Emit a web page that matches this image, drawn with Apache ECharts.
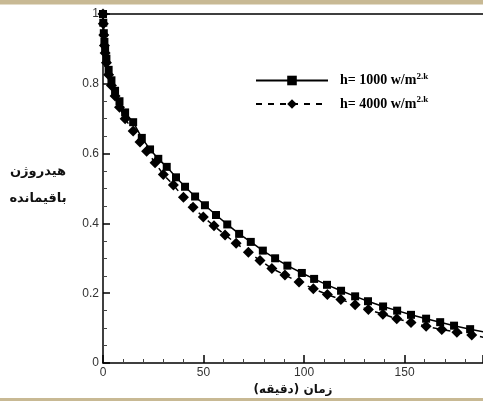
<!DOCTYPE html>
<html>
<head>
<meta charset="utf-8">
<script src="https://cdn.jsdelivr.net/npm/echarts@6/dist/echarts.min.js"></script>
<style>
html,body{margin:0;padding:0;background:#fff;}
#c{width:483px;height:401px;}
</style>
</head>
<body>
<div id="c"></div>
<script>
// h = 1000 w/m^2.k (squares, solid)
const t1000 = [0, 0.15, 0.4, 0.7, 1.05, 1.7, 2.8, 4.2, 6, 8.2, 11, 15, 19.3, 23.4, 27.5, 31.7, 36.3, 40.8, 45.8, 50.7, 56.2, 61.8, 67.7, 73.5, 79.5, 85.6, 91.7, 98.9, 105, 111.4, 118.4, 125.4, 131.8, 139.3, 146.3, 153.2, 160.7, 167.7, 174.6, 182.6, 189.5];
const y1000 = [1, 0.975, 0.945, 0.92, 0.898, 0.872, 0.84, 0.81, 0.78, 0.75, 0.718, 0.69, 0.645, 0.612, 0.585, 0.562, 0.532, 0.505, 0.477, 0.452, 0.424, 0.397, 0.37, 0.347, 0.322, 0.30, 0.279, 0.258, 0.241, 0.224, 0.207, 0.191, 0.177, 0.162, 0.150, 0.138, 0.127, 0.117, 0.107, 0.097, 0.089];
// h = 4000 w/m^2.k (diamonds, dashed)
const t4000 = [0, 0.15, 0.4, 0.7, 1.05, 1.7, 2.8, 4.2, 6, 8.2, 11, 15, 18.4, 21.7, 25.9, 30, 35, 40, 44.8, 49.9, 55.2, 60.7, 66.2, 72.3, 78.1, 84, 90.5, 97.5, 104.6, 111.6, 118.3, 125.4, 132, 139.2, 146.1, 153.2, 160.7, 168.5, 176, 183.4, 190];
const y4000 = [1, 0.972, 0.94, 0.91, 0.888, 0.86, 0.826, 0.795, 0.765, 0.733, 0.70, 0.665, 0.633, 0.607, 0.574, 0.54, 0.51, 0.475, 0.446, 0.418, 0.393, 0.367, 0.343, 0.317, 0.294, 0.271, 0.252, 0.232, 0.213, 0.196, 0.182, 0.167, 0.153, 0.140, 0.127, 0.116, 0.105, 0.096, 0.088, 0.080, 0.073];
const seriesNames = ['h1000', 'h4000'];
const legendLabels = { h1000: ['h= 1000 w/m', '2.k'], h4000: ['h= 4000 w/m', '2.k'] };
const xName = 'زمان (دقیقه)';
const yName = 'هیدروژن\nباقیمانده';

const zip = (a, b) => a.map((v, i) => [v, b[i]]);
const chart = echarts.init(document.getElementById('c'));
const labelFont = 'Liberation Sans, Arial, sans-serif';
chart.setOption({
  animation: false,
  backgroundColor: '#fff',
  grid: { left: 103, right: 0, top: 14, bottom: 38 },
  graphic: [
    { type: 'rect', shape: { x: 0, y: 0, width: 483, height: 4.5 }, style: { fill: '#c8b994' } },
    { type: 'rect', shape: { x: 0, y: 398, width: 483, height: 3 }, style: { fill: '#c8b994' } },
    { type: 'text', x: 38, y: 185, style: { text: yName, font: 'bold 13px "DejaVu Sans", sans-serif', fill: '#111', align: 'center', verticalAlign: 'middle', lineHeight: 27 } }
  ],
  legend: {
    left: 250, top: 67, orient: 'vertical', itemWidth: 72, itemHeight: 12, itemGap: 8,
    data: seriesNames,
    formatter: n => '{b|' + legendLabels[n][0] + '}{s|' + legendLabels[n][1] + '}',
    textStyle: {
      rich: {
        b: { fontFamily: 'Liberation Serif, Times New Roman, serif', fontWeight: 'bold', fontSize: 14, color: '#000', padding: [0, 0, 0, 7] },
        s: { fontFamily: 'Liberation Serif, Times New Roman, serif', fontWeight: 'bold', fontSize: 9, color: '#000', padding: [0, 0, 8, 0] }
      }
    }
  },
  xAxis: [{
    type: 'value', min: 0, max: 189, interval: 50,
    name: xName, nameLocation: 'middle', nameGap: 21,
    nameTextStyle: { fontFamily: '"DejaVu Sans", sans-serif', fontWeight: 'bold', fontSize: 12, color: '#111' },
    axisLine: { lineStyle: { color: '#000', width: 1.5 } },
    axisTick: { inside: true, length: 8, lineStyle: { color: '#000', width: 1.5 } },
    minorTick: { show: true, splitNumber: 5, length: 4, lineStyle: { color: '#444' } },
    axisLabel: { showMaxLabel: false, fontFamily: labelFont, fontSize: 12, color: '#333', margin: 4 },
    splitLine: { show: false }
  }, {
    type: 'value', min: 0, max: 189, position: 'top',
    axisLine: { show: true, lineStyle: { color: '#000', width: 1.5 } },
    axisTick: { show: false }, axisLabel: { show: false }, splitLine: { show: false }
  }],
  yAxis: {
    type: 'value', min: 0, max: 1, interval: 0.2,
    axisLine: { show: true, lineStyle: { color: '#000', width: 1.5 } },
    axisTick: { inside: true, length: 7, lineStyle: { color: '#000', width: 1.5 } },
    minorTick: { show: true, splitNumber: 4, length: 4, lineStyle: { color: '#444' } },
    axisLabel: { fontFamily: labelFont, fontSize: 12, color: '#333', margin: 4,
      formatter: v => (v === 0 ? '0' : v === 1 ? '1' : v.toFixed(1)) },
    splitLine: { show: false }
  },
  series: [
    { name: seriesNames[0], type: 'line', data: zip(t1000, y1000), symbol: 'rect', symbolSize: 8,
      itemStyle: { color: '#000' }, lineStyle: { color: '#000', width: 1.5 }, clip: true, z: 3 },
    { name: seriesNames[1], type: 'line', data: zip(t4000, y4000), symbol: 'diamond', symbolSize: 11,
      itemStyle: { color: '#000' }, lineStyle: { color: '#000', width: 1.5, type: [6, 6] }, clip: true, z: 3 }
  ]
});
</script>
</body>
</html>
